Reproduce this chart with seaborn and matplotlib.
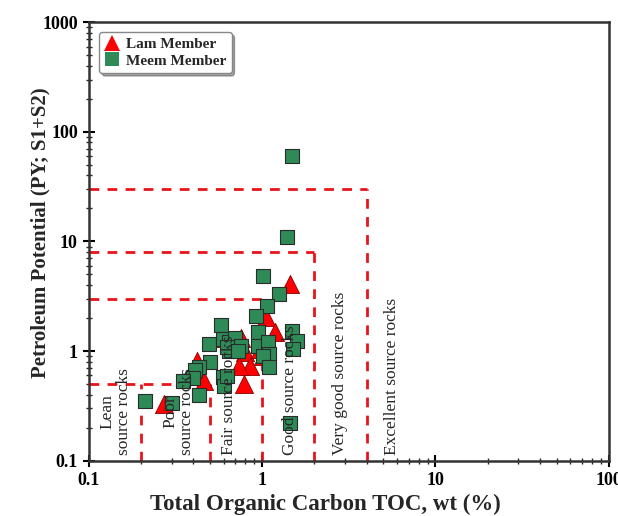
import matplotlib
matplotlib.use("Agg")
import matplotlib.pyplot as plt
import matplotlib.ticker as mticker
from matplotlib.lines import Line2D
import seaborn as sns
import pandas as pd

# Data (TOC wt%, PY mg/g)
meem_toc = [1.49, 1.39, 1.01, 1.25, 1.07, 0.92, 0.58, 0.49, 0.59, 0.64, 0.70, 0.75,
            0.94, 0.94, 1.08, 1.10, 1.01, 1.10, 1.49, 1.59, 1.51, 0.50, 0.43, 0.41,
            0.40, 0.43, 0.35, 0.59, 0.60, 0.63, 0.64, 0.63, 0.72, 0.21, 0.30, 1.45]
meem_py = [60, 11, 4.8, 3.3, 2.6, 2.1, 1.73, 1.16, 1.29, 1.21, 1.31, 1.11,
           1.49, 1.11, 1.21, 0.94, 0.90, 0.71, 1.52, 1.23, 1.04, 0.79, 0.71, 0.68,
           0.57, 0.40, 0.53, 0.58, 0.48, 0.59, 1.0, 1.09, 1.0, 0.35, 0.34, 0.22]
lam_toc = [1.45, 1.05, 1.19, 0.59, 0.75, 0.80, 0.85, 0.73, 0.78, 0.46, 0.42, 0.97, 1.01, 0.27]
lam_py = [4.1, 2.04, 1.49, 1.31, 1.31, 0.98, 0.73, 0.73, 0.50, 0.53, 0.81, 1.04, 0.90, 0.33]

members = ["Lam Member", "Meem Member"]

# Classification boundaries
toc_bounds = [0.2, 0.5, 1, 2, 4]
py_bounds = [0.5, 0.5, 3, 8, 30]
class_labels = ["Lean\nsource rocks", "Poor\nsource rocks", "Fair source rocks",
                "Good source rocks", "Very good source rocks", "Excellent source rocks"]
class_x = [0.143, 0.33, 0.64, 1.45, 2.8, 5.6]

df = pd.DataFrame({
    "TOC": lam_toc + meem_toc,
    "PY": lam_py + meem_py,
    "Member": [members[0]] * len(lam_toc) + [members[1]] * len(meem_toc),
})

sns.set_style("white")
plt.rcParams['font.family'] = ['Liberation Serif', 'DejaVu Serif']

fig = plt.figure(figsize=(6.18, 5.16), dpi=100)
ax = fig.add_axes([0.144, 0.107, 0.841, 0.850])

red = "#e8141b"
green = "#2e8b57"

# dashed boundaries
for xb, yb in zip(toc_bounds, py_bounds):
    ax.plot([xb, xb], [0.1, yb], ls=(0, (3.5, 3)), color=red, lw=2, zorder=1)
for xb, yb in zip([0.5, 1, 2, 4], [0.5, 3, 8, 30]):
    ax.plot([0.1, xb], [yb, yb], ls=(0, (3.5, 3)), color=red, lw=2, zorder=1)

sns.scatterplot(data=df[df.Member == members[1]], x="TOC", y="PY", marker="s",
                color=green, edgecolor="#2a2a2a", linewidth=0.8, s=115, ax=ax,
                zorder=3, legend=False)
sns.scatterplot(data=df[df.Member == members[0]], x="TOC", y="PY", marker="^",
                color="#ff0000", edgecolor="#8a0000", linewidth=0.6, s=170, ax=ax,
                zorder=2, legend=False)

ax.set_xscale("log")
ax.set_yscale("log")
ax.set_xlim(0.1, 100)
ax.set_ylim(0.1, 1000)

fmt = mticker.FuncFormatter(lambda v, p: ("%g" % v))
ax.xaxis.set_major_formatter(fmt)
ax.yaxis.set_major_formatter(fmt)
ax.xaxis.set_major_locator(mticker.LogLocator(base=10, numticks=10))
ax.yaxis.set_major_locator(mticker.LogLocator(base=10, numticks=10))
ax.xaxis.set_minor_locator(mticker.LogLocator(base=10, subs=range(2, 10), numticks=20))
ax.yaxis.set_minor_locator(mticker.LogLocator(base=10, subs=range(2, 10), numticks=20))
ax.xaxis.set_minor_formatter(mticker.NullFormatter())
ax.yaxis.set_minor_formatter(mticker.NullFormatter())
ax.tick_params(which="major", direction="inout", length=9, width=1.5, colors="black",
               labelsize=13, bottom=True, left=True)
ax.tick_params(which="minor", direction="inout", length=5, width=1, bottom=True, left=True)
for lab in ax.get_xticklabels() + ax.get_yticklabels():
    lab.set_fontweight("bold")

for sp in ax.spines.values():
    sp.set_color("#333333")
    sp.set_linewidth(1.8)

ax.set_xlabel("Total Organic Carbon TOC, wt (%)", fontsize=16.5, fontweight="bold")
ax.set_ylabel("Petroleum Potential (PY; S1+S2)", fontsize=15, fontweight="bold")
ax.xaxis.set_label_coords(0.455, -0.075)
ax.yaxis.set_label_coords(-0.075, 0.52)

for lab, xv in zip(class_labels, class_x):
    ax.text(xv, 0.112, lab, rotation=90, ha="center", va="bottom", fontsize=12.5,
            multialignment="center", zorder=4, linespacing=1.0)

handles = [
    Line2D([], [], marker="^", ls="none", color="#ff0000", markersize=11, markeredgewidth=0),
    Line2D([], [], marker="s", ls="none", color=green, markersize=10, markeredgewidth=0),
]
leg = ax.legend(handles, members, loc="upper left", bbox_to_anchor=(0.005, 0.995),
                frameon=True, fancybox=True, shadow=True, handletextpad=0.4,
                borderpad=0.35, labelspacing=0.2, handlelength=1.0,
                prop={"weight": "bold", "size": 11})
leg.get_frame().set_edgecolor("#888888")

fig.savefig("out.png", dpi=100, facecolor="white")
